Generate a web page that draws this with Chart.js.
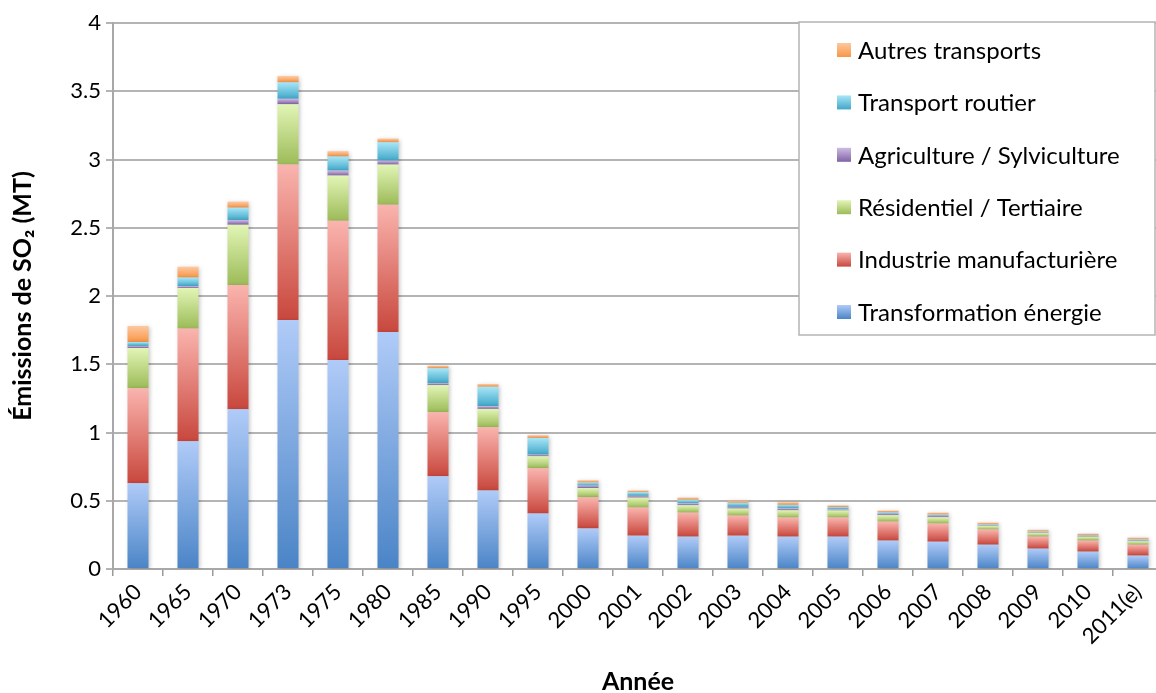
<!DOCTYPE html>
<html>
<head>
<meta charset="utf-8">
<script src="https://cdn.jsdelivr.net/npm/chart.js@4.4.1/dist/chart.umd.min.js"></script>
<style>
  html, body { margin: 0; padding: 0; background: #fff; overflow: hidden; }
  #wrap { width: 1170px; height: 693px; }
</style>
</head>
<body>
<div id="wrap"><canvas id="so2Chart" width="1170" height="693"></canvas></div>
<script>
// ==========================================
// DONNÉES
// ==========================================
const annees = ['1960', '1965', '1970', '1973', '1975', '1980', '1985', '1990', '1995', '2000',
    '2001', '2002', '2003', '2004', '2005', '2006', '2007', '2008', '2009', '2010', '2011(e)'];

const transformationEnergie = [0.628, 0.936, 1.171, 1.825, 1.531, 1.736, 0.679, 0.576, 0.407, 0.297,
    0.244, 0.237, 0.244, 0.237, 0.237, 0.208, 0.200, 0.178, 0.149, 0.127, 0.098];
const industrieManufacturiere = [0.697, 0.825, 0.910, 1.138, 1.020, 0.933, 0.470, 0.463, 0.331, 0.228,
    0.206, 0.176, 0.147, 0.140, 0.140, 0.139, 0.133, 0.111, 0.088, 0.081, 0.080];
const residentielTertiaire = [0.294, 0.298, 0.441, 0.442, 0.331, 0.294, 0.198, 0.134, 0.088, 0.068,
    0.073, 0.054, 0.052, 0.053, 0.052, 0.047, 0.046, 0.027, 0.027, 0.029, 0.025];
const agricultureSylviculture = [0.015, 0.013, 0.035, 0.040, 0.037, 0.029, 0.015, 0.020, 0.012, 0.018,
    0.013, 0.015, 0.012, 0.015, 0.008, 0.012, 0.012, 0.004, 0.004, 0.005, 0.005];
const transportRoutier = [0.029, 0.063, 0.090, 0.120, 0.103, 0.134, 0.108, 0.142, 0.122, 0.022,
    0.026, 0.025, 0.030, 0.025, 0.017, 0.010, 0.008, 0.007, 0.007, 0.005, 0.009];
const autresTransports = [0.117, 0.079, 0.044, 0.046, 0.039, 0.027, 0.019, 0.020, 0.020, 0.017,
    0.013, 0.016, 0.016, 0.019, 0.012, 0.012, 0.014, 0.013, 0.012, 0.012, 0.013];

const yTicks = [0, 0.5, 1, 1.5, 2, 2.5, 3, 3.5, 4];

// ordre d'empilement : du bas vers le haut
const seriesNoms = ['Transformation énergie', 'Industrie manufacturière', 'Résidentiel / Tertiaire',
    'Agriculture / Sylviculture', 'Transport routier', 'Autres transports'];
const seriesData = [transformationEnergie, industrieManufacturiere, residentielTertiaire,
    agricultureSylviculture, transportRoutier, autresTransports];
// [clair en haut, foncé en bas]
const seriesCouleurs = [
    ['#b0cbf8', '#4a84c6'],
    ['#fab4ae', '#c8473d'],
    ['#e2f5b6', '#9cbb58'],
    ['#ccbbe4', '#8163a6'],
    ['#a8e6f8', '#41a8c8'],
    ['#fec89e', '#f79646']
];

const FONT = 'Lato, "Open Sans", sans-serif';

// ==========================================
// DÉGRADÉS
// ==========================================
function degrade(i) {
    return function (c) {
        const chart = c.chart;
        const y = chart.scales && chart.scales.y;
        if (!y || !chart.chartArea || c.dataIndex === undefined) return seriesCouleurs[i][1];
        let start = 0;
        for (let k = 0; k < i; k++) start += seriesData[k][c.dataIndex];
        const end = start + seriesData[i][c.dataIndex];
        const y0 = y.getPixelForValue(end);
        const y1 = y.getPixelForValue(start);
        if (!isFinite(y0) || !isFinite(y1) || y0 === y1) return seriesCouleurs[i][1];
        const g = chart.ctx.createLinearGradient(0, y0, 0, y1);
        g.addColorStop(0, seriesCouleurs[i][0]);
        g.addColorStop(1, seriesCouleurs[i][1]);
        return g;
    };
}

// ombre légère autour des barres
const ombrePlugin = {
    id: 'ombre',
    beforeDatasetsDraw(chart) {
        const ctx = chart.ctx;
        ctx.save();
        ctx.shadowColor = 'rgba(0,0,0,0.22)';
        ctx.shadowBlur = 4;
        ctx.shadowOffsetX = 1;
        ctx.shadowOffsetY = 1;
    },
    afterDatasetsDraw(chart) {
        chart.ctx.restore();
    }
};

// légende dessinée à la main (ordre inversé, encadrée)
const legendePlugin = {
    id: 'legende',
    afterDraw(chart) {
        const ctx = chart.ctx;
        const bx = 799, by = 22, bw = 356, bh = 313;
        ctx.save();
        ctx.fillStyle = '#ffffff';
        ctx.fillRect(bx, by, bw, bh);
        ctx.strokeStyle = '#b4b4b4';
        ctx.lineWidth = 1.5;
        ctx.strokeRect(bx, by, bw, bh);
        ctx.font = '24px ' + FONT;
        ctx.textBaseline = 'middle';
        ctx.textAlign = 'left';
        for (let j = 0; j < seriesNoms.length; j++) {
            const i = seriesNoms.length - 1 - j;
            const cy = 50 + j * 52.4;
            const g = ctx.createLinearGradient(0, cy - 7, 0, cy + 7);
            g.addColorStop(0, seriesCouleurs[i][0]);
            g.addColorStop(1, seriesCouleurs[i][1]);
            ctx.fillStyle = g;
            ctx.fillRect(837, cy - 7, 14, 14);
            ctx.fillStyle = '#000000';
            ctx.fillText(seriesNoms[i], 858, cy + 1);
        }
        ctx.restore();
    }
};

// ==========================================
// GRAPHIQUE
// ==========================================
const ctx = document.getElementById('so2Chart').getContext('2d');
const so2Chart = new Chart(ctx, {
    type: 'bar',
    data: {
        labels: annees,
        datasets: seriesData.map((d, i) => ({
            label: seriesNoms[i],
            data: d,
            backgroundColor: degrade(i),
            borderWidth: 0,
            barPercentage: 0.42,
            categoryPercentage: 1
        }))
    },
    options: {
        responsive: false,
        animation: false,
        devicePixelRatio: 1,
        layout: { padding: { top: 23, right: 7, left: 0, bottom: 0 } },
        plugins: {
            legend: { display: false },
            tooltip: { enabled: false }
        },
        scales: {
            x: {
                stacked: true,
                afterFit: (s) => { s.height = 124; },
                grid: {
                    offset: true,
                    drawOnChartArea: false,
                    drawTicks: true,
                    tickLength: 7,
                    color: '#9a9a9a',
                    lineWidth: 1.5
                },
                border: { color: '#a8a8a8', width: 2 },
                ticks: {
                    minRotation: 45,
                    maxRotation: 45,
                    autoSkip: false,
                    padding: 3,
                    color: '#000000',
                    font: { family: FONT, size: 22 }
                },
                title: {
                    display: true,
                    text: 'Année',
                    color: '#000000',
                    padding: { top: 0, bottom: -1 },
                    font: { family: FONT, size: 25, weight: 'bold', lineHeight: 1 }
                }
            },
            y: {
                stacked: true,
                min: 0,
                max: 4,
                afterFit: (s) => { s.width = 113; },
                afterBuildTicks: (s) => { s.ticks = yTicks.map(v => ({ value: v })); },
                grid: {
                    color: '#b4b4b4',
                    lineWidth: 2,
                    tickLength: 7
                },
                border: { color: '#a8a8a8', width: 2 },
                ticks: {
                    padding: 5,
                    color: '#000000',
                    font: { family: FONT, size: 22 },
                    callback: (v) => String(v)
                },
                title: {
                    display: true,
                    text: 'Émissions de SO₂ (MT)',
                    color: '#000000',
                    padding: { top: 10, bottom: 0 },
                    font: { family: FONT, size: 25, weight: 'bold', lineHeight: 1 }
                }
            }
        }
    },
    plugins: [ombrePlugin, legendePlugin]
});
</script>
</body>
</html>
